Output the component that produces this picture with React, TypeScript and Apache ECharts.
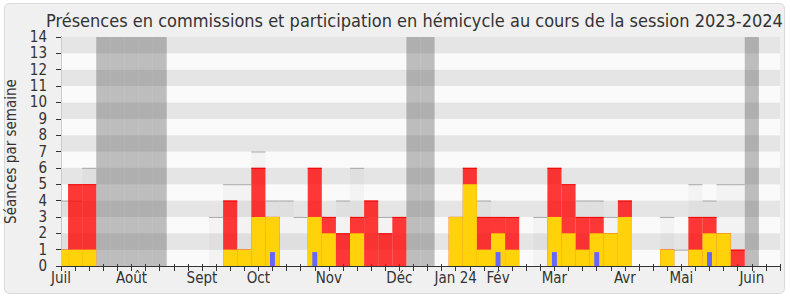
import React, { useEffect, useRef } from 'react';
import * as echarts from 'echarts';

// Weekly values (week 0 = first week of July 2023)
const hemicyclePresence = [4, 4, 6, 0, 0, 0, 0, 0, 0, 0, 0, 3, 5, 5, 7, 4, 4, 3, 0, 0, 4, 6, 0, 3, 0, 0, 0, 0, 0, 0, 4, 0, 0, 0, 3, 0, 0, 4, 4, 3, 0, 0, 0, 3, 1, 5, 4, 5, 5, 0, 0];
const commissionPresence = [1, 5, 5, 0, 0, 0, 0, 0, 0, 0, 0, 0, 4, 1, 6, 3, 0, 0, 6, 3, 2, 3, 4, 2, 3, 0, 0, 0, 3, 6, 3, 3, 3, 0, 0, 6, 5, 3, 3, 2, 4, 0, 0, 1, 0, 3, 3, 2, 1, 0, 0];
const participation = [1, 1, 1, 0, 0, 0, 0, 0, 0, 0, 0, 0, 1, 1, 3, 3, 0, 0, 3, 2, 0, 2, 0, 0, 0, 0, 0, 0, 3, 5, 1, 2, 1, 0, 0, 3, 2, 1, 2, 2, 3, 0, 0, 1, 0, 1, 2, 2, 0, 0, 0];
const questions = [0, 0, 0, 0, 0, 0, 0, 0, 0, 0, 0, 0, 0, 0, 0, 1, 0, 0, 1, 0, 0, 0, 0, 0, 0, 0, 0, 0, 0, 0, 0, 1, 0, 0, 0, 1, 0, 0, 1, 0, 0, 0, 0, 0, 0, 0, 1, 0, 0, 0, 0];
const vacationWeeks = [3, 4, 5, 6, 7, 25, 26, 49];
const monthTicks = [0, 5, 10, 14, 19, 24, 28, 31, 35, 40, 44, 49];
const monthLabels = ['Juil', 'Août', 'Sept', 'Oct', 'Nov', 'Déc', 'Jan 24', 'Fév', 'Mar', 'Avr', 'Mai', 'Juin'];
const yTicks = [0, 1, 2, 3, 4, 5, 6, 7, 8, 9, 10, 11, 12, 13, 14];

const FONT = "'DejaVu Sans Condensed', 'DejaVu Sans', sans-serif";
const WEEK_MAX = 51;

function clip(params: any, x: number, y: number, w: number, h: number) {
  const cs = params.coordSys;
  return echarts.graphic.clipRectByRect(
    { x, y, width: w, height: h },
    { x: cs.x, y: cs.y, width: cs.width, height: cs.height }
  );
}

function barRenderer(fill: string, topLine: string | null, widthFrac = 1, heightFrac = 1) {
  return (params: any, api: any) => {
    const i = api.value(0);
    const v = api.value(1);
    if (!v) return null;
    const a = api.coord([i - widthFrac / 2, 0]);
    const b = api.coord([i + widthFrac / 2, v * heightFrac]);
    const r = clip(params, a[0], b[1], b[0] - a[0], a[1] - b[1]);
    if (!r) return null;
    const children: any[] = [{ type: 'rect', shape: r, style: { fill } }];
    if (topLine) {
      children.push({
        type: 'line',
        shape: { x1: r.x, y1: r.y + 0.5, x2: r.x + r.width, y2: r.y + 0.5 },
        style: { stroke: topLine, lineWidth: 1 },
      });
    }
    return { type: 'group', children };
  };
}

function vacationRenderer(params: any, api: any) {
  const i = api.value(0);
  const a = api.coord([i - 0.5, 0]);
  const b = api.coord([i + 0.5, 14]);
  const r = clip(params, a[0], b[1], b[0] - a[0], a[1] - b[1]);
  if (!r) return null;
  return { type: 'rect', shape: r, style: { fill: 'rgba(70,70,70,0.34)' } };
}

export default function App() {
  const ref = useRef<HTMLDivElement>(null);
  useEffect(() => {
    if (!ref.current) return;
    const chart = echarts.init(ref.current, null, { renderer: 'svg' });
    const toData = (arr: number[]) => arr.map((v, i) => [i, v]);
    const labelMap: Record<number, string> = {};
    monthTicks.forEach((t, k) => (labelMap[t] = monthLabels[k]));

    chart.setOption({
      animation: false,
      backgroundColor: '#ffffff',
      textStyle: { fontFamily: FONT },
      title: {
        text: 'Présences en commissions et participation en hémicycle au cours de la session 2023-2024',
        left: 41,
        top: 6,
        textStyle: { fontSize: 18, fontWeight: 'normal', color: '#333', fontFamily: FONT },
      },
      graphic: [
        {
          type: 'rect',
          left: 4,
          top: 3,
          z: -10,
          silent: true,
          shape: { width: 780, height: 290, r: 5 },
          style: { fill: '#f0f0f0', stroke: '#d9d9d9', lineWidth: 1 },
        },
      ],
      grid: { left: 61, right: 10, top: 37, bottom: 34, containLabel: false, outerBoundsMode: 'none' },
      xAxis: [
        {
          type: 'value',
          min: 0,
          max: WEEK_MAX,
          interval: 1,
          position: 'bottom',
          axisLine: { show: true, onZero: false, lineStyle: { color: '#333', width: 1 } },
          axisTick: { show: true, length: 5, lineStyle: { color: '#333' } },
          splitLine: { show: false },
          axisLabel: {
            show: true,
            margin: 4,
            fontSize: 15,
            color: '#333',
            fontFamily: FONT,
            showMinLabel: true,
            showMaxLabel: true,
            formatter: (v: number) => labelMap[Math.round(v)] || '',
          },
        },
        {
          type: 'value',
          min: 0,
          max: WEEK_MAX,
          interval: 1,
          position: 'top',
          axisLine: { show: false },
          axisTick: { show: true, length: 2, lineStyle: { color: '#333' } },
          splitLine: { show: false },
          axisLabel: { show: false },
        },
      ],
      yAxis: [
        {
          type: 'value',
          min: 0,
          max: 14,
          interval: 1,
          name: 'Séances par semaine',
          nameLocation: 'middle',
          nameGap: 42,
          nameTextStyle: { fontSize: 15, color: '#333', fontFamily: FONT },
          axisLine: { show: true, lineStyle: { color: '#333' } },
          axisTick: { show: true, length: 5, lineStyle: { color: '#333' } },
          splitLine: { show: false },
          splitArea: { show: true, areaStyle: { color: ['#fafafa', '#e5e5e5'] } },
          axisLabel: {
            margin: 14,
            fontSize: 15,
            color: '#333',
            fontFamily: FONT,
            formatter: (v: number) => (yTicks.indexOf(v) >= 0 ? String(v) : ''),
          },
        },
        {
          type: 'value',
          min: 0,
          max: 14,
          interval: 1,
          position: 'right',
          axisLine: { show: true, lineStyle: { color: '#cccccc' } },
          axisTick: { show: false },
          axisLabel: { show: false },
          splitLine: { show: false },
        },
      ],
      series: [
        {
          type: 'custom',
          name: 'Vacances',
          xAxisIndex: 0,
          yAxisIndex: 0,
          renderItem: vacationRenderer,
          data: vacationWeeks.map((w) => [w, 14]),
          silent: true,
        },
        {
          type: 'custom',
          name: 'Présences hémicycle',
          xAxisIndex: 0,
          yAxisIndex: 0,
          renderItem: barRenderer('rgba(150,150,150,0.07)', '#a9a9a9'),
          data: toData(hemicyclePresence),
          silent: true,
        },
        {
          type: 'custom',
          name: 'Présences commission',
          xAxisIndex: 0,
          yAxisIndex: 0,
          renderItem: barRenderer('rgba(255,0,0,0.78)', 'rgba(240,0,0,0.9)'),
          data: toData(commissionPresence),
          silent: true,
        },
        {
          type: 'custom',
          name: 'Participation',
          xAxisIndex: 0,
          yAxisIndex: 0,
          renderItem: barRenderer('rgb(255,210,10)', null),
          data: toData(participation),
          silent: true,
        },
        {
          type: 'custom',
          name: 'Questions',
          xAxisIndex: 0,
          yAxisIndex: 0,
          renderItem: barRenderer('rgb(102,102,255)', null, 0.35, 0.85),
          data: toData(questions),
          silent: true,
        },
      ],
    });
    return () => chart.dispose();
  }, []);
  return (
    <div
      ref={ref}
      style={{ position: 'absolute', left: 0, top: 0, width: 790, height: 300, background: '#fff' }}
    />
  );
}
